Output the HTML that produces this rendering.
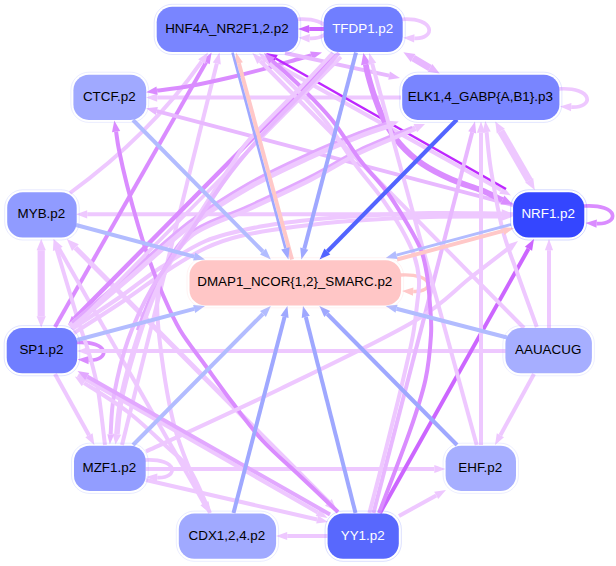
<!DOCTYPE html>
<html><head><meta charset="utf-8"><title>Motif network</title>
<style>html,body{margin:0;padding:0;background:#fff}svg{display:block}</style></head>
<body>
<svg width="616" height="566" viewBox="0 0 616 566">
<rect width="100%" height="100%" fill="#fff"/>
<g>
<path d="M400.5,275.0 C434.8,273.0 434.8,292.6 413.2,291.5" stroke="#ffc8c8" stroke-width="3.40" fill="none"/>
<polygon points="402.0,291.0 413.4,287.4 413.0,295.7" fill="#ffc8c8"/>
<path d="M297.0,19.3 C334.0,17.0 334.0,39.5 309.7,38.3" stroke="#eec8ff" stroke-width="3.70" fill="none"/>
<polygon points="298.5,37.7 309.9,34.1 309.5,42.4" fill="#eec8ff"/>
<path d="M401.6,19.3 C435.9,17.0 435.9,39.5 414.3,38.3" stroke="#eec8ff" stroke-width="3.70" fill="none"/>
<polygon points="403.1,37.7 414.5,34.2 414.1,42.5" fill="#eec8ff"/>
<path d="M558.5,88.9 C594.2,86.7 594.2,108.3 571.2,107.1" stroke="#eec8ff" stroke-width="3.70" fill="none"/>
<polygon points="560.0,106.5 571.4,102.9 571.0,111.2" fill="#eec8ff"/>
<path d="M584.0,206.0 C619.7,203.9 619.7,224.7 596.7,223.6" stroke="#da8cff" stroke-width="3.70" fill="none"/>
<polygon points="585.5,223.0 596.9,219.4 596.5,227.7" fill="#da8cff"/>
<path d="M76.0,342.5 C110.3,340.4 110.3,361.2 88.7,360.1" stroke="#da8cff" stroke-width="3.70" fill="none"/>
<polygon points="77.5,359.5 88.9,355.9 88.5,364.2" fill="#da8cff"/>
<path d="M144.5,460.0 C178.8,457.9 178.8,478.7 157.2,477.6" stroke="#eec8ff" stroke-width="3.70" fill="none"/>
<polygon points="146.0,477.0 157.4,473.4 157.0,481.7" fill="#eec8ff"/>
<path d="M324.0,29.0 L309.2,29.0" stroke="#cc66ff" stroke-width="4.00" fill="none"/>
<polygon points="298.0,29.0 309.2,24.9 309.2,33.1" fill="#cc66ff"/>
<path d="M401.0,97.6 L157.2,97.6" stroke="#eec8ff" stroke-width="4.00" fill="none"/>
<polygon points="146.0,97.6 157.2,93.4 157.2,101.8" fill="#eec8ff"/>
<path d="M513.0,214.3 L87.2,214.3" stroke="#eec8ff" stroke-width="4.00" fill="none"/>
<polygon points="76.0,214.3 87.2,210.2 87.2,218.5" fill="#eec8ff"/>
<path d="M506.0,351.0 L88.2,351.0" stroke="#eec8ff" stroke-width="4.00" fill="none"/>
<polygon points="77.0,351.0 88.2,346.9 88.2,355.1" fill="#eec8ff"/>
<path d="M145.5,469.0 L434.3,469.0" stroke="#eec8ff" stroke-width="4.00" fill="none"/>
<polygon points="445.5,469.0 434.3,473.1 434.3,464.9" fill="#eec8ff"/>
<path d="M327.5,536.0 L287.2,536.0" stroke="#eec8ff" stroke-width="4.00" fill="none"/>
<polygon points="276.0,536.0 287.2,531.9 287.2,540.1" fill="#eec8ff"/>
<path d="M41.2,250.2 L41.2,316.3" stroke="#eec8ff" stroke-width="7.20" fill="none"/>
<polygon points="41.2,327.5 36.6,316.3 45.8,316.3" fill="#eec8ff"/>
<polygon points="41.2,239.0 45.8,250.2 36.6,250.2" fill="#eec8ff"/>
<path d="M549.0,328.0 L549.0,250.2" stroke="#eec8ff" stroke-width="4.00" fill="none"/>
<polygon points="549.0,239.0 553.1,250.2 544.9,250.2" fill="#eec8ff"/>
<path d="M501.8,213.4 C489.8,213.4 452.0,212.7 430.0,213.0 C408.0,213.3 389.5,214.4 370.0,215.5 C350.5,216.6 331.5,217.7 313.0,219.6 C294.5,221.5 276.9,223.2 259.0,226.8 C241.1,230.4 222.2,234.1 205.7,241.0 C189.2,247.9 174.3,258.7 160.0,268.0 C145.7,277.3 134.7,286.8 120.0,297.0 C105.3,307.2 80.0,323.7 72.0,329.0" stroke="#eec8ff" stroke-width="4.00" fill="none"/>
<polygon points="513.0,213.5 501.8,217.6 501.8,209.3" fill="#eec8ff"/>
<path d="M74.0,333.0 C82.5,327.5 109.8,310.2 125.0,300.0 C140.2,289.8 151.6,280.7 165.0,272.0 C178.4,263.3 193.0,254.1 205.7,248.0 C218.4,241.9 226.5,239.2 241.4,235.7 C256.3,232.2 276.9,229.2 295.0,226.8 C313.1,224.4 327.5,222.6 350.0,221.0 C372.5,219.4 404.7,217.7 430.0,217.0 C455.3,216.3 489.8,216.6 501.8,216.6" stroke="#eec8ff" stroke-width="4.00" fill="none"/>
<polygon points="513.0,216.5 501.8,220.7 501.8,212.4" fill="#eec8ff"/>
<path d="M55.0,327.0 L206.1,62.2" stroke="#da8cff" stroke-width="4.00" fill="none"/>
<polygon points="211.6,52.5 209.7,64.3 202.4,60.2" fill="#da8cff"/>
<path d="M122.0,445.0 L216.8,63.4" stroke="#eec8ff" stroke-width="4.00" fill="none"/>
<polygon points="219.5,52.5 220.8,64.4 212.8,62.4" fill="#eec8ff"/>
<path d="M70.0,193.0 Q150.0,135.0 201.6,61.7" stroke="#eec8ff" stroke-width="4.00" fill="none"/>
<polygon points="208.0,52.5 205.0,64.0 198.2,59.3" fill="#eec8ff"/>
<path d="M513.0,205.0 L156.8,111.1" stroke="#e8b8ff" stroke-width="4.00" fill="none"/>
<polygon points="146.0,108.2 157.9,107.0 155.8,115.1" fill="#e8b8ff"/>
<path d="M157.1,90.6 C162.6,89.9 177.8,88.2 190.0,86.0 C202.2,83.8 217.5,80.4 230.0,77.5 C242.5,74.6 253.3,71.8 265.0,68.6 C276.7,65.4 292.3,60.7 300.0,58.5 C307.7,56.3 309.3,56.0 311.2,55.4" stroke="#da8cff" stroke-width="4.00" fill="none"/>
<polygon points="322.0,52.5 312.3,59.5 310.1,51.4" fill="#da8cff"/>
<polygon points="146.0,92.2 156.5,86.5 157.7,94.7" fill="#da8cff"/>
<path d="M285.0,53.0 L389.1,75.6" stroke="#e8b8ff" stroke-width="4.00" fill="none"/>
<polygon points="400.0,78.0 388.2,79.7 389.9,71.6" fill="#e8b8ff"/>
<path d="M413.1,57.9 L430.0,67.9" stroke="#e8b8ff" stroke-width="7.00" fill="none"/>
<polygon points="439.7,73.5 427.7,71.8 432.3,63.9" fill="#e8b8ff"/>
<polygon points="403.4,52.3 415.4,54.0 410.8,61.9" fill="#e8b8ff"/>
<path d="M500.8,131.1 L529.2,180.3" stroke="#eec8ff" stroke-width="7.60" fill="none"/>
<polygon points="534.8,190.0 525.2,182.6 533.2,178.0" fill="#eec8ff"/>
<polygon points="495.2,121.4 504.8,128.8 496.8,133.4" fill="#eec8ff"/>
<path d="M268.0,60.0 L501.2,190.0" stroke="#eec8ff" stroke-width="4.00" fill="none"/>
<polygon points="511.0,195.5 499.2,193.7 503.2,186.4" fill="#eec8ff"/>
<path d="M506.0,189.0 L275.7,58.5" stroke="#be28ff" stroke-width="2.50" fill="none"/>
<polygon points="266.0,53.0 277.8,54.9 273.7,62.1" fill="#be28ff"/>
<path d="M502.4,200.0 C501.9,199.7 502.6,200.2 499.0,198.5 C495.4,196.8 488.7,193.2 480.8,190.0 C472.9,186.8 461.4,183.8 451.7,179.5 C442.0,175.2 431.1,169.9 422.5,164.0 C413.9,158.1 406.2,151.0 400.0,144.0 C393.8,137.0 389.2,129.7 385.0,122.0 C380.8,114.3 377.8,105.8 375.0,98.0 C372.2,90.2 369.5,80.6 368.0,75.0 C366.5,69.4 366.1,66.0 365.8,64.3" stroke="#da8cff" stroke-width="5.80" fill="none"/>
<polygon points="363.4,53.0 370.5,63.3 361.1,65.2" fill="#da8cff"/>
<polygon points="513.0,204.5 500.5,204.4 504.3,195.6" fill="#da8cff"/>
<path d="M380.0,513.0 L528.5,248.8" stroke="#cc66ff" stroke-width="4.00" fill="none"/>
<polygon points="534.0,239.0 532.1,250.8 524.9,246.7" fill="#cc66ff"/>
<path d="M399.0,516.0 L436.2,495.4" stroke="#eec8ff" stroke-width="4.00" fill="none"/>
<polygon points="446.0,490.0 438.2,499.1 434.2,491.8" fill="#eec8ff"/>
<path d="M534.0,374.0 L500.4,435.2" stroke="#eec8ff" stroke-width="4.00" fill="none"/>
<polygon points="495.0,445.0 496.8,433.2 504.0,437.2" fill="#eec8ff"/>
<path d="M105.0,445.0 C103.8,435.8 100.6,405.0 98.0,390.0 C95.4,375.0 92.8,366.7 89.5,355.0 C86.2,343.3 83.4,337.5 78.0,320.0 C72.6,302.5 60.4,261.4 56.8,249.7" stroke="#eec8ff" stroke-width="4.00" fill="none"/>
<polygon points="53.6,239.0 60.8,248.5 52.9,250.9" fill="#eec8ff"/>
<path d="M204.0,503.3 L59.1,248.7" stroke="#eec8ff" stroke-width="4.00" fill="none"/>
<polygon points="53.6,239.0 62.7,246.7 55.5,250.8" fill="#eec8ff"/>
<polygon points="209.5,513.0 200.4,505.3 207.6,501.2" fill="#eec8ff"/>
<path d="M328.4,502.3 L75.4,247.7" stroke="#eec8ff" stroke-width="5.00" fill="none"/>
<polygon points="66.8,239.0 78.8,244.2 72.0,251.1" fill="#eec8ff"/>
<polygon points="337.0,511.0 325.0,505.8 331.8,498.9" fill="#eec8ff"/>
<path d="M55.0,374.0 L89.0,435.2" stroke="#eec8ff" stroke-width="4.00" fill="none"/>
<polygon points="94.4,445.0 85.3,437.2 92.6,433.2" fill="#eec8ff"/>
<path d="M338.0,512.0 C331.7,506.0 312.7,488.0 300.0,476.0 C287.3,464.0 273.3,452.3 262.0,440.0 C250.7,427.7 241.5,414.5 232.0,402.0 C222.5,389.5 213.7,377.0 205.0,365.0 C196.3,353.0 187.0,341.7 180.0,330.0 C173.0,318.3 168.0,306.3 163.0,295.0 C158.0,283.7 154.2,273.7 150.0,262.0 C145.8,250.3 141.8,237.8 138.0,225.0 C134.2,212.2 130.2,197.5 127.0,185.0 C123.8,172.5 120.8,158.9 119.0,150.0 C117.2,141.1 116.6,134.7 116.1,131.7" stroke="#da8cff" stroke-width="4.00" fill="none"/>
<polygon points="114.3,120.6 120.2,131.0 112.0,132.3" fill="#da8cff"/>
<path d="M146.0,480.0 L317.1,519.5" stroke="#eec8ff" stroke-width="4.00" fill="none"/>
<polygon points="328.0,522.0 316.2,523.5 318.0,515.4" fill="#eec8ff"/>
<path d="M78.0,375.0 L317.8,512.4" stroke="#eec8ff" stroke-width="4.00" fill="none"/>
<polygon points="327.5,518.0 315.7,516.0 319.8,508.8" fill="#eec8ff"/>
<path d="M373.5,513.0 L472.2,132.3" stroke="#e8b8ff" stroke-width="4.00" fill="none"/>
<polygon points="475.0,121.5 476.2,133.4 468.2,131.3" fill="#e8b8ff"/>
<path d="M481.0,445.0 L481.0,132.7" stroke="#eec8ff" stroke-width="4.00" fill="none"/>
<polygon points="481.0,121.5 485.1,132.7 476.9,132.7" fill="#eec8ff"/>
<path d="M536.8,327.0 C533.7,318.3 523.7,291.2 518.0,275.0 C512.3,258.8 507.2,247.5 502.7,230.0 C498.2,212.5 493.7,186.3 491.0,170.0 C488.3,153.7 487.3,138.4 486.6,132.1" stroke="#eec8ff" stroke-width="4.00" fill="none"/>
<polygon points="485.3,121.0 490.7,131.6 482.5,132.6" fill="#eec8ff"/>
<path d="M74.3,318.6 L330.7,59.4" stroke="#da8cff" stroke-width="4.40" fill="none"/>
<polygon points="337.0,53.0 333.2,61.9 328.1,56.9" fill="#da8cff"/>
<polygon points="68.0,325.0 71.8,316.1 76.9,321.1" fill="#da8cff"/>
<path d="M70.0,327.0 C80.0,318.5 110.0,293.1 130.0,276.0 C150.0,258.9 170.2,239.5 190.0,224.6 C209.8,209.7 228.5,198.0 248.5,186.6 C268.5,175.2 291.4,164.9 310.0,156.3 C328.6,147.7 347.0,140.2 360.0,135.0 C373.0,129.8 383.5,126.8 388.2,125.2" stroke="#eec8ff" stroke-width="7.00" fill="none"/>
<polygon points="398.8,121.5 389.7,129.5 386.7,120.8" fill="#eec8ff"/>
<path d="M72.0,322.5 C81.5,314.3 109.5,290.3 129.0,273.5 C148.5,256.7 169.2,236.8 189.0,221.8 C208.8,206.9 227.5,195.2 247.5,183.8 C267.5,172.4 290.4,162.1 309.0,153.5 C327.6,144.9 345.8,137.7 359.0,132.5 C372.2,127.3 383.2,124.2 388.0,122.5" stroke="#e2a8ff" stroke-width="2.60" fill="none"/>
<path d="M116.9,434.1 C117.7,427.6 118.3,411.5 122.0,395.0 C125.7,378.5 132.7,354.0 139.0,335.0 C145.3,316.0 151.5,297.5 160.0,281.0 C168.5,264.5 175.2,248.1 190.0,236.0 C204.8,223.9 228.5,218.1 248.5,208.7 C268.5,199.3 291.4,188.8 310.0,179.4 C328.6,170.0 342.4,160.5 360.0,152.0 C377.6,143.5 406.1,132.1 415.4,128.2" stroke="#eec8ff" stroke-width="5.60" fill="none"/>
<polygon points="425.0,124.0 417.1,132.2 413.6,124.1" fill="#eec8ff"/>
<polygon points="115.5,444.5 112.5,433.5 121.2,434.7" fill="#eec8ff"/>
<path d="M137.0,330.0 C140.6,321.4 149.8,294.6 158.5,278.5 C167.2,262.4 174.2,245.6 189.0,233.5 C203.8,221.4 227.5,215.6 247.5,206.2 C267.5,196.8 290.4,186.3 309.0,176.9 C327.6,167.5 341.8,157.8 359.0,149.5 C376.2,141.2 403.2,130.8 412.0,127.0" stroke="#e2a8ff" stroke-width="2.40" fill="none"/>
<path d="M146.0,451.5 C168.3,441.1 235.5,410.6 280.0,389.0 C324.5,367.4 381.3,340.5 413.0,322.0 C444.7,303.5 454.0,290.4 470.0,278.0 C486.0,265.6 502.6,252.9 509.1,247.8" stroke="#eec8ff" stroke-width="4.00" fill="none"/>
<polygon points="518.0,241.0 511.7,251.1 506.6,244.6" fill="#eec8ff"/>
<path d="M524.0,328.0 L260.3,61.0" stroke="#eec8ff" stroke-width="4.00" fill="none"/>
<polygon points="252.4,53.0 263.2,58.1 257.3,63.9" fill="#eec8ff"/>
<path d="M476.7,445.0 L372.2,63.8" stroke="#eec8ff" stroke-width="4.00" fill="none"/>
<polygon points="369.2,53.0 376.2,62.7 368.2,64.9" fill="#eec8ff"/>
<path d="M369.4,513.0 C372.1,502.5 380.9,468.8 385.7,450.0 C390.5,431.2 394.7,414.2 398.2,400.0 C401.7,385.8 404.0,375.8 406.5,365.0 C409.0,354.2 411.2,345.0 413.0,335.0 C414.8,325.0 416.0,314.2 417.0,305.0 C418.0,295.8 419.5,288.3 419.0,280.0 C418.5,271.7 417.0,263.7 414.0,255.0 C411.0,246.3 406.5,237.7 401.0,228.0 C395.5,218.3 388.7,207.7 381.0,197.0 C373.3,186.3 364.0,176.3 355.0,164.0 C346.0,151.7 336.7,135.3 327.0,123.0 C317.3,110.7 307.0,100.4 297.0,90.0 C287.0,79.6 272.0,65.7 267.0,60.8" stroke="#eec8ff" stroke-width="4.00" fill="none"/>
<polygon points="259.0,53.0 269.9,57.8 264.1,63.8" fill="#eec8ff"/>
<path d="M379.0,513.0 C384.2,499.3 402.3,452.9 410.0,430.7 C417.7,408.5 421.9,395.9 425.4,380.0 C428.9,364.1 430.2,347.5 431.0,335.0 C431.8,322.5 430.7,315.0 430.0,305.0 C429.3,295.0 428.5,284.2 427.0,275.0 C425.5,265.8 424.2,258.3 421.0,250.0 C417.8,241.7 413.7,234.7 408.0,225.0 C402.3,215.3 395.0,202.8 387.0,192.0 C379.0,181.2 369.2,172.0 360.0,160.0 C350.8,148.0 341.7,132.0 332.0,120.0 C322.3,108.0 312.0,97.9 302.0,88.0 C292.0,78.1 277.2,65.2 272.2,60.6" stroke="#da8cff" stroke-width="4.00" fill="none"/>
<polygon points="264.0,53.0 275.0,57.5 269.4,63.6" fill="#da8cff"/>
<path d="M72.0,329.0 L341.0,57.0" stroke="#eec8ff" stroke-width="3.60" fill="none"/>
<path d="M333.0,53.0 C327.5,58.8 314.0,73.5 300.0,88.0 C286.0,102.5 260.4,127.2 249.0,140.0 C237.6,152.8 239.8,152.4 231.6,164.7 C223.3,177.0 209.8,197.8 199.5,214.0 C189.2,230.2 176.9,249.3 170.0,262.0 C163.1,274.7 159.7,276.4 158.0,290.0 C156.3,303.6 157.2,320.5 160.0,343.6 C162.8,366.7 167.9,402.4 175.0,428.5 C182.1,454.6 197.7,487.5 202.7,500.0 C207.7,512.5 204.6,503.0 205.0,503.6" stroke="#eec8ff" stroke-width="4.00" fill="none"/>
<polygon points="211.0,513.0 201.5,505.8 208.5,501.3" fill="#eec8ff"/>
<path d="M110.6,434.5 C111.2,427.9 111.1,410.8 114.0,395.0 C116.9,379.2 121.7,357.8 128.0,340.0 C134.3,322.2 142.5,304.7 152.0,288.0 C161.5,271.3 172.8,258.0 185.0,240.0 C197.2,222.0 212.2,197.5 225.0,180.0 C237.8,162.5 247.8,150.8 262.0,135.0 C276.2,119.2 297.2,98.7 310.0,85.0 C322.8,71.3 334.2,58.3 339.0,53.0" stroke="#e8b8ff" stroke-width="4.00" fill="none"/>
<polygon points="109.8,444.5 107.3,434.2 114.0,434.8" fill="#e8b8ff"/>
<path d="M210.0,513.0 C206.7,505.8 197.5,481.3 190.0,470.0 C182.5,458.7 175.3,454.7 165.0,445.0 C154.7,435.3 141.5,422.4 128.0,412.0 C114.5,401.6 91.4,387.7 84.1,382.8" stroke="#eec8ff" stroke-width="4.00" fill="none"/>
<polygon points="74.8,376.6 86.4,379.3 81.8,386.3" fill="#eec8ff"/>
<path d="M330.0,514.5 L87.2,376.5" stroke="#e2a8ff" stroke-width="4.00" fill="none"/>
<polygon points="77.5,371.0 89.3,372.9 85.2,380.1" fill="#e2a8ff"/>
<path d="M76.0,225.0 L194.2,256.6" stroke="#b2bcff" stroke-width="4.00" fill="none"/>
<polygon points="205.0,259.5 193.1,260.6 195.3,252.6" fill="#b2bcff"/>
<path d="M133.0,120.0 L262.9,251.5" stroke="#b2bcff" stroke-width="4.00" fill="none"/>
<polygon points="270.8,259.5 260.0,254.4 265.9,248.6" fill="#b2bcff"/>
<path d="M292.0,259.5 L238.9,63.3" stroke="#ffc8c8" stroke-width="4.00" fill="none"/>
<polygon points="236.0,52.5 242.9,62.2 234.9,64.4" fill="#ffc8c8"/>
<path d="M232.5,52.5 L285.4,248.4" stroke="#9fa8ff" stroke-width="2.60" fill="none"/>
<polygon points="288.4,259.5 281.2,249.5 289.6,247.3" fill="#9fa8ff"/>
<path d="M356.0,52.5 L304.3,248.7" stroke="#9fa8ff" stroke-width="4.00" fill="none"/>
<polygon points="301.4,259.5 300.2,247.6 308.3,249.7" fill="#9fa8ff"/>
<path d="M457.0,119.5 L327.3,251.5" stroke="#5264ff" stroke-width="4.00" fill="none"/>
<polygon points="319.5,259.5 324.4,248.6 330.3,254.4" fill="#5264ff"/>
<path d="M397.0,259.5 L503.2,230.9" stroke="#ffc8c8" stroke-width="4.00" fill="none"/>
<polygon points="514.0,228.0 504.3,234.9 502.1,226.9" fill="#ffc8c8"/>
<path d="M511.0,224.5 L396.5,255.1" stroke="#b2bcff" stroke-width="2.80" fill="none"/>
<polygon points="385.7,258.0 395.4,251.1 397.6,259.1" fill="#b2bcff"/>
<path d="M507.0,337.5 L396.5,308.8" stroke="#b2bcff" stroke-width="4.00" fill="none"/>
<polygon points="385.7,306.0 397.6,304.8 395.5,312.8" fill="#b2bcff"/>
<path d="M77.0,340.0 L194.2,308.9" stroke="#b2bcff" stroke-width="4.00" fill="none"/>
<polygon points="205.0,306.0 195.2,312.9 193.1,304.9" fill="#b2bcff"/>
<path d="M133.0,445.0 L262.9,314.0" stroke="#b2bcff" stroke-width="4.00" fill="none"/>
<polygon points="270.8,306.0 265.9,316.9 260.0,311.0" fill="#b2bcff"/>
<path d="M233.5,513.0 L284.6,316.8" stroke="#9fa8ff" stroke-width="4.00" fill="none"/>
<polygon points="287.4,306.0 288.6,317.9 280.6,315.8" fill="#9fa8ff"/>
<path d="M355.5,513.0 L305.8,316.9" stroke="#9fa8ff" stroke-width="4.00" fill="none"/>
<polygon points="303.0,306.0 309.8,315.8 301.7,317.9" fill="#9fa8ff"/>
<path d="M457.0,445.0 L327.3,314.0" stroke="#9fa8ff" stroke-width="4.00" fill="none"/>
<polygon points="319.4,306.0 330.2,311.0 324.3,316.9" fill="#9fa8ff"/>
</g>
<g font-family="'Liberation Sans', Arial, Helvetica, sans-serif" font-size="13.4" text-anchor="middle">
<rect x="154.2" y="4.3" width="146.5" height="50.2" rx="18" ry="18" fill="none" stroke="#7985ff" stroke-opacity="0.3" stroke-width="0.7"/>
<rect x="156.7" y="6.8" width="141.5" height="45.2" rx="15.5" ry="15.5" fill="#7985ff"/>
<text x="226.9" y="32.8" fill="#000">HNF4A_NR2F1,2.p2</text>
<rect x="321.2" y="4.3" width="84.0" height="50.2" rx="18" ry="18" fill="none" stroke="#707eff" stroke-opacity="0.3" stroke-width="0.7"/>
<rect x="323.7" y="6.8" width="79.0" height="45.2" rx="15.5" ry="15.5" fill="#707eff"/>
<text x="362.7" y="32.8" fill="#fff">TFDP1.p2</text>
<rect x="399.7" y="72.2" width="162.2" height="50.2" rx="18" ry="18" fill="none" stroke="#7985ff" stroke-opacity="0.3" stroke-width="0.7"/>
<rect x="402.2" y="74.7" width="157.2" height="45.2" rx="15.5" ry="15.5" fill="#7985ff"/>
<text x="480.3" y="100.7" fill="#000">ELK1,4_GABP{A,B1}.p3</text>
<rect x="510.6" y="189.8" width="76.2" height="50.2" rx="18" ry="18" fill="none" stroke="#3446ff" stroke-opacity="0.3" stroke-width="0.7"/>
<rect x="513.1" y="192.3" width="71.2" height="45.2" rx="15.5" ry="15.5" fill="#3446ff"/>
<text x="548.2" y="218.3" fill="#fff">NRF1.p2</text>
<rect x="502.9" y="325.6" width="91.5" height="50.2" rx="18" ry="18" fill="none" stroke="#a6aeff" stroke-opacity="0.3" stroke-width="0.7"/>
<rect x="505.4" y="328.1" width="86.5" height="45.2" rx="15.5" ry="15.5" fill="#a6aeff"/>
<text x="548.2" y="354.1" fill="#000">AAUACUG</text>
<rect x="443.1" y="443.2" width="75.4" height="50.2" rx="18" ry="18" fill="none" stroke="#a6aeff" stroke-opacity="0.3" stroke-width="0.7"/>
<rect x="445.6" y="445.7" width="70.4" height="45.2" rx="15.5" ry="15.5" fill="#a6aeff"/>
<text x="480.3" y="471.7" fill="#000">EHF.p2</text>
<rect x="325.1" y="511.1" width="76.2" height="50.2" rx="18" ry="18" fill="none" stroke="#5868fd" stroke-opacity="0.3" stroke-width="0.7"/>
<rect x="327.6" y="513.6" width="71.2" height="45.2" rx="15.5" ry="15.5" fill="#5868fd"/>
<text x="362.7" y="539.6" fill="#fff">YY1.p2</text>
<rect x="176.3" y="511.1" width="102.3" height="50.2" rx="18" ry="18" fill="none" stroke="#a0a9ff" stroke-opacity="0.3" stroke-width="0.7"/>
<rect x="178.8" y="513.6" width="97.3" height="45.2" rx="15.5" ry="15.5" fill="#a0a9ff"/>
<text x="226.9" y="539.6" fill="#000">CDX1,2,4.p2</text>
<rect x="71.5" y="443.2" width="76.7" height="50.2" rx="18" ry="18" fill="none" stroke="#929dff" stroke-opacity="0.3" stroke-width="0.7"/>
<rect x="74.0" y="445.7" width="71.7" height="45.2" rx="15.5" ry="15.5" fill="#929dff"/>
<text x="109.3" y="471.7" fill="#000">MZF1.p2</text>
<rect x="4.2" y="325.6" width="75.5" height="50.2" rx="18" ry="18" fill="none" stroke="#707eff" stroke-opacity="0.3" stroke-width="0.7"/>
<rect x="6.7" y="328.1" width="70.5" height="45.2" rx="15.5" ry="15.5" fill="#707eff"/>
<text x="41.4" y="354.1" fill="#000">SP1.p2</text>
<rect x="4.7" y="189.8" width="74.5" height="50.2" rx="18" ry="18" fill="none" stroke="#909bff" stroke-opacity="0.3" stroke-width="0.7"/>
<rect x="7.2" y="192.3" width="69.5" height="45.2" rx="15.5" ry="15.5" fill="#909bff"/>
<text x="41.4" y="218.3" fill="#000">MYB.p2</text>
<rect x="70.9" y="72.2" width="77.8" height="50.2" rx="18" ry="18" fill="none" stroke="#a0a9ff" stroke-opacity="0.3" stroke-width="0.7"/>
<rect x="73.4" y="74.7" width="72.8" height="45.2" rx="15.5" ry="15.5" fill="#a0a9ff"/>
<text x="109.3" y="100.7" fill="#000">CTCF.p2</text>
<rect x="187.0" y="257.7" width="216.6" height="50.2" rx="18" ry="18" fill="none" stroke="#ffc6c6" stroke-opacity="0.3" stroke-width="0.7"/>
<rect x="189.5" y="260.2" width="211.6" height="45.2" rx="15.5" ry="15.5" fill="#ffc6c6"/>
<text x="294.8" y="286.2" fill="#000">DMAP1_NCOR{1,2}_SMARC.p2</text>
</g></svg>
</body></html>
